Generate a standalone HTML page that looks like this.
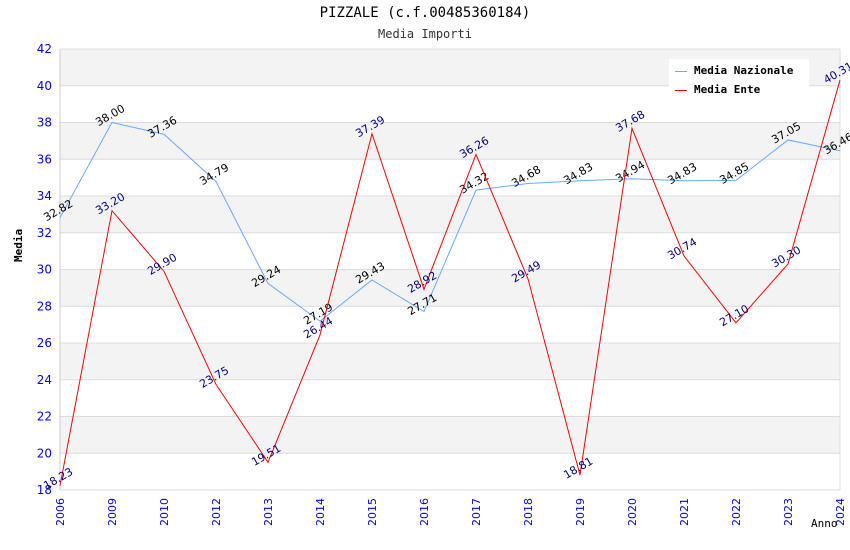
<!DOCTYPE html>
<html><head><meta charset="utf-8"><style>
body{margin:0;background:#fff}
svg{display:block;font-family:"DejaVu Sans","Liberation Sans",sans-serif}
</style></head><body>
<svg id="c" width="850" height="550"></svg>
<script>
const years=["2006","2009","2010","2012","2013","2014","2015","2016","2017","2018","2019","2020","2021","2022","2023","2024"];
const nazionale=[32.82,38.00,37.36,34.79,29.24,27.19,29.43,27.71,34.32,34.68,34.83,34.94,34.83,34.85,37.05,36.46];
const ente=[18.23,33.20,29.90,23.75,19.51,26.44,37.39,28.92,36.26,29.49,18.81,37.68,30.74,27.10,30.30,40.31];
const yTicks=[18,20,22,24,26,28,30,32,34,36,38,40,42];
const NS="http://www.w3.org/2000/svg";
const svg=document.getElementById('c');
const L=60,R=840,T=49,B=490,ymin=18,ymax=42;
const x=i=>L+i*(R-L)/(years.length-1);
const y=v=>B-(v-ymin)/(ymax-ymin)*(B-T);
function el(t,a,p){const e=document.createElementNS(NS,t);for(const k in a)e.setAttribute(k,a[k]);(p||svg).appendChild(e);return e;}
for(let i=0;i<yTicks.length-1;i++){
 if(i%2===1){const r=el('rect',{x:L,y:y(yTicks[i+1]),width:R-L,height:y(yTicks[i])-y(yTicks[i+1]),fill:'#f3f3f3'});
 
 }
}
yTicks.forEach(v=>{
 const g=el('line',{x1:L,x2:R,y1:y(v),y2:y(v),stroke:'#dcdcdc','stroke-width':1});
 
 
 const t=el('text',{x:52,y:y(v)+4,'text-anchor':'end','font-size':12,fill:'#0000ff'});t.textContent=v;
 
 
});
el('line',{x1:L,x2:L,y1:T,y2:B,stroke:'#ccc'});
el('line',{x1:R,x2:R,y1:T,y2:B,stroke:'#ddd'});
years.forEach((yr,i)=>{
 const t=el('text',{x:x(i)+4,y:B+8,'text-anchor':'end','font-size':11,fill:'#0000ff',transform:`rotate(-90 ${x(i)+4} ${B+8})`});t.textContent=yr;
 
 
});
function series(vals,color,lblColor,name){
 const p=el('polyline',{points:vals.map((v,i)=>x(i)+','+y(v)).join(' '),fill:'none',stroke:color,'stroke-width':1});
 
 
 vals.forEach((v,i)=>{
  const lx=x(i),ly=y(v)-4;
  const t=el('text',{x:lx,y:ly,'text-anchor':'middle','font-size':11,fill:lblColor,transform:`rotate(-30 ${lx} ${ly})`});
  t.textContent=v.toFixed(2);
  
  
 });
}
series(nazionale,'#66aaff','#000','media-nazionale');
series(ente,'#ff0000','#000080','media-ente');
</script>
<div style="position:absolute;left:0;top:0;width:850px;height:550px;pointer-events:none;font-family:'DejaVu Sans Mono','Liberation Mono',monospace">
 <div style="position:absolute;top:5px;width:850px;text-align:center;font-size:14px;color:#000">PIZZALE (c.f.00485360184)</div>
 <div style="position:absolute;top:27px;width:850px;text-align:center;font-size:12px;color:#333">Media Importi</div>
 <div style="position:absolute;left:12px;top:262px;font-size:11px;font-weight:bold;transform:rotate(-90deg);transform-origin:left top;color:#000">Media</div>
 <div style="position:absolute;left:811px;top:517px;font-size:11px;color:#000">Anno</div>
 <div style="position:absolute;left:669px;top:59px;width:140px;height:42px;background:#fff;font-size:11px;font-weight:bold">
  <div style="position:absolute;left:6px;top:5px"><span style="display:inline-block;width:12px;height:1px;background:#66aaff;vertical-align:middle;margin-right:7px"></span>Media Nazionale</div>
  <div style="position:absolute;left:6px;top:24px"><span style="display:inline-block;width:12px;height:1px;background:#ff0000;vertical-align:middle;margin-right:7px"></span>Media Ente</div>
 </div>
</div>
</body></html>
